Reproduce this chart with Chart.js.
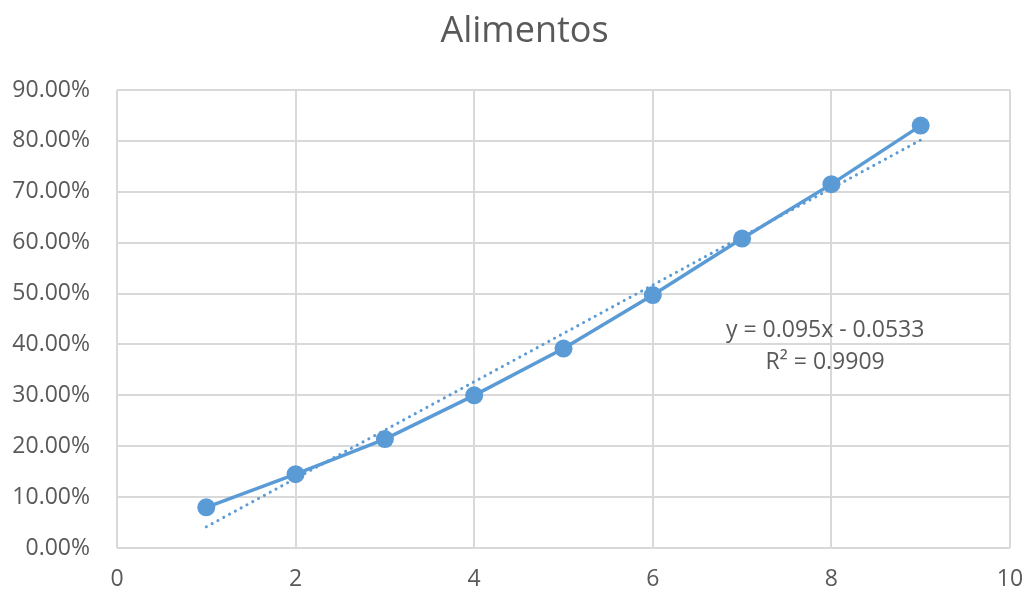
<!DOCTYPE html>
<html>
<head>
<meta charset="utf-8">
<script src="https://cdn.jsdelivr.net/npm/chart.js@4/dist/chart.umd.min.js"></script>
<style>
  html, body { margin: 0; padding: 0; background: #ffffff; }
  #wrap { width: 1027px; height: 595px; }
</style>
</head>
<body>
<div id="wrap"><canvas id="c" width="1027" height="595"></canvas></div>
<script>
// Share of "Alimentos" by period
const periods = [1, 2, 3, 4, 5, 6, 7, 8, 9];
const shares = [0.080, 0.145, 0.214, 0.300, 0.392, 0.497, 0.608, 0.715, 0.830];

// Linear trendline as reported: y = 0.095x - 0.0533, R² = 0.9909
const trendSlope = 0.095;
const trendIntercept = -0.0533;
const trendLabel = ['y = 0.095x - 0.0533', 'R² = 0.9909'];

const chartTitle = 'Alimentos';
const xTicks = [0, 2, 4, 6, 8, 10];
const yTicks = [0, 0.1, 0.2, 0.3, 0.4, 0.5, 0.6, 0.7, 0.8, 0.9];

const blue = '#5B9BD5';
const textGrey = '#595959';
const gridGrey = '#D9D9D9';
const fontFamily = '"Open Sans", "Noto Sans", sans-serif';

const seriesPoints = periods.map((p, i) => ({ x: p, y: shares[i] }));
const trendEnds = [periods[0], periods[periods.length - 1]];
const trendPoints = trendEnds.map(x => ({ x: x, y: trendSlope * x + trendIntercept }));

// Title centred over the plot area plus axis labels
const titlePlugin = {
  id: 'centredTitle',
  afterDraw(chart) {
    const { ctx, chartArea } = chart;
    ctx.save();
    ctx.fillStyle = textGrey;
    ctx.font = '36px ' + fontFamily;
    ctx.textAlign = 'center';
    ctx.textBaseline = 'middle';
    ctx.fillText(chartTitle, (chartArea.left + chartArea.right) / 2 - 39, chartArea.top - 58);
    ctx.restore();
  }
};

// Trendline equation beside the fitted line
const equationPlugin = {
  id: 'equation',
  afterDatasetsDraw(chart) {
    const { ctx, scales } = chart;
    const cx = scales.x.getPixelForValue(7.93);
    const cy = scales.y.getPixelForValue(0.397);
    ctx.save();
    ctx.fillStyle = textGrey;
    ctx.font = '23px ' + fontFamily;
    ctx.textAlign = 'center';
    ctx.textBaseline = 'middle';
    ctx.fillText(trendLabel[0], cx, cy - 16);
    ctx.fillText(trendLabel[1], cx, cy + 16);
    ctx.restore();
  }
};

new Chart(document.getElementById('c'), {
  type: 'scatter',
  data: {
    datasets: [
      {
        label: chartTitle,
        data: seriesPoints,
        showLine: true,
        borderColor: blue,
        backgroundColor: blue,
        borderWidth: 3.5,
        pointRadius: 9,
        pointHoverRadius: 9,
        pointBorderWidth: 0,
        order: 1
      },
      {
        label: 'Lineal (' + chartTitle + ')',
        data: trendPoints,
        showLine: true,
        borderColor: blue,
        borderWidth: 3,
        borderDash: [0.1, 6.5],
        borderCapStyle: 'round',
        pointRadius: 0,
        order: 2
      }
    ]
  },
  options: {
    responsive: false,
    animation: false,
    layout: { padding: { left: 0, right: 0, top: 90, bottom: 0 } },
    plugins: {
      legend: { display: false },
      tooltip: { enabled: false },
      title: { display: false }
    },
    scales: {
      x: {
        type: 'linear',
        min: 0,
        max: 10,
        afterBuildTicks(scale) { scale.ticks = xTicks.map(v => ({ value: v })); },
        afterFit(scale) {
          scale.height = 47;
          scale.paddingLeft = 0;
          scale.paddingRight = 17;
        },
        grid: { color: gridGrey, lineWidth: 2, drawTicks: false },
        border: { display: false },
        ticks: {
          color: textGrey,
          font: { family: fontFamily, size: 23 },
          padding: 18
        }
      },
      y: {
        type: 'linear',
        min: 0,
        max: 0.9,
        afterBuildTicks(scale) { scale.ticks = yTicks.map(v => ({ value: v })); },
        afterFit(scale) {
          scale.width = 117;
          scale.paddingTop = 0;
          scale.paddingBottom = 0;
        },
        grid: { color: gridGrey, lineWidth: 2, drawTicks: false },
        border: { display: false },
        ticks: {
          color: textGrey,
          font: { family: fontFamily, size: 23 },
          padding: 27,
          callback: v => (v * 100).toFixed(2) + '%'
        }
      }
    }
  },
  plugins: [equationPlugin, titlePlugin]
});
</script>
</body>
</html>
